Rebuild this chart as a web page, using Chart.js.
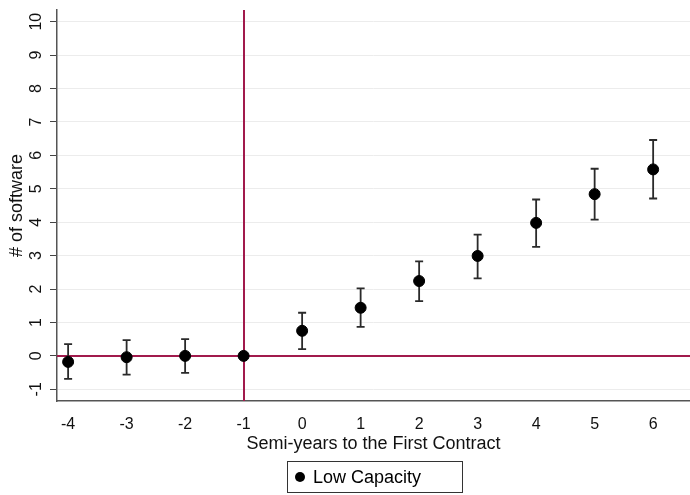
<!DOCTYPE html>
<html>
<head>
<meta charset="utf-8">
<script src="https://cdn.jsdelivr.net/npm/chart.js@4"></script>
<style>
  html, body { margin: 0; padding: 0; background: #fff; }
  #wrap { width: 690px; height: 495px; }
</style>
</head>
<body>
<div id="wrap"><canvas id="myChart" width="690" height="495"></canvas></div>
<script>
const periods = [-4, -3, -2, -1, 0, 1, 2, 3, 4, 5, 6];
const coef = [-0.18, -0.04, 0.0, 0.0, 0.75, 1.44, 2.24, 2.99, 3.98, 4.84, 5.58];
const lower = [-0.69, -0.56, -0.51, 0.0, 0.20, 0.87, 1.64, 2.32, 3.26, 4.08, 4.71];
const upper = [0.35, 0.47, 0.50, 0.0, 1.29, 2.02, 2.83, 3.63, 4.68, 5.60, 6.46];
const yTicks = [-1, 0, 1, 2, 3, 4, 5, 6, 7, 8, 9, 10];
const seriesName = "Low Capacity";

const ctx = document.getElementById("myChart");
const font = "Liberation Sans, Arial, sans-serif";
const red = "#a11a4c";

const points = periods.map((p, i) => ({ x: p, y: coef[i] }));

// capped error bars, the red reference lines, rotated y labels and the legend box
const extras = {
    id: 'extras',
    beforeDatasetsDraw(chart) {
        const { ctx, chartArea: a, scales: { x, y } } = chart;
        ctx.save();
        ctx.strokeStyle = red;
        ctx.lineWidth = 2;
        ctx.beginPath();
        const y0 = Math.round(y.getPixelForValue(0));
        ctx.moveTo(a.left, y0);
        ctx.lineTo(a.right, y0);
        const xm = Math.round(x.getPixelForValue(-1));
        ctx.moveTo(xm, a.top);
        ctx.lineTo(xm, a.bottom);
        ctx.stroke();

        ctx.strokeStyle = "#2a2a2a";
        ctx.lineWidth = 1.8;
        for (let i = 0; i < periods.length; i++) {
            if (upper[i] === lower[i]) continue;
            const px = x.getPixelForValue(periods[i]);
            const yl = y.getPixelForValue(lower[i]);
            const yh = y.getPixelForValue(upper[i]);
            ctx.beginPath();
            ctx.moveTo(px, yl); ctx.lineTo(px, yh);
            ctx.moveTo(px - 4, yl); ctx.lineTo(px + 4, yl);
            ctx.moveTo(px - 4, yh); ctx.lineTo(px + 4, yh);
            ctx.stroke();
        }

        // y tick labels, read bottom to top like the original
        ctx.fillStyle = "#111";
        ctx.font = "16px " + font;
        ctx.textAlign = "center";
        ctx.textBaseline = "middle";
        for (const v of yTicks) {
            const py = y.getPixelForValue(v);
            ctx.save();
            ctx.translate(37, py);
            ctx.rotate(-Math.PI / 2);
            ctx.fillText(String(v), 0, 0);
            ctx.restore();
        }
        ctx.restore();
    },
    afterDraw(chart) {
        const c = chart.ctx;
        c.save();
        c.strokeStyle = "#333";
        c.lineWidth = 1;
        c.strokeRect(287.5, 461.5, 175, 31);
        c.fillStyle = "#000";
        c.beginPath();
        c.arc(300, 477, 5, 0, Math.PI * 2);
        c.fill();
        c.font = "18px " + font;
        c.textBaseline = "middle";
        c.fillText(seriesName, 313, 478);
        c.restore();
    }
};

new Chart(ctx, {
    type: 'scatter',
    data: {
        datasets: [{
            label: seriesName,
            data: points,
            backgroundColor: "#000",
            borderColor: "#000",
            pointRadius: 5.5,
            pointHoverRadius: 5.5
        }]
    },
    options: {
        responsive: false,
        animation: false,
        layout: { autoPadding: false, padding: { top: 10, right: 0, left: 0, bottom: 0 } },
        plugins: {
            legend: { display: false },
            tooltip: { enabled: false }
        },
        scales: {
            x: {
                type: 'linear',
                min: -4.19,
                max: 6.63,
                afterBuildTicks(axis) {
                    axis.ticks = periods.map(v => ({ value: v }));
                },
                afterFit(axis) {
                    axis.height = 94;
                    axis.paddingLeft = 0;
                    axis.paddingRight = 0;
                },
                grid: { display: false, drawTicks: true, tickLength: 7, tickColor: "#444" },
                border: { color: "#555", width: 1.5 },
                ticks: {
                    color: "#111",
                    font: { family: font, size: 16 },
                    padding: 7,
                    maxRotation: 0,
                    callback: v => v
                },
                title: {
                    display: true,
                    text: "Semi-years to the First Contract",
                    color: "#111",
                    font: { family: font, size: 18 },
                    padding: { top: 0, bottom: 40 }
                }
            },
            y: {
                min: -1.35,
                max: 10.35,
                afterBuildTicks(axis) {
                    axis.ticks = yTicks.map(v => ({ value: v }));
                },
                afterFit(axis) {
                    axis.width = 57;
                    axis.paddingTop = 0;
                    axis.paddingBottom = 0;
                },
                grid: { color: "#ececec", lineWidth: 1, drawTicks: true, tickLength: 7, tickColor: "#444" },
                border: { color: "#555", width: 1.5 },
                ticks: { display: false },
                title: {
                    display: true,
                    text: "# of software",
                    color: "#111",
                    font: { family: font, size: 18 },
                    padding: { top: 6, bottom: 0 }
                }
            }
        }
    },
    plugins: [extras]
});
</script>
</body>
</html>
